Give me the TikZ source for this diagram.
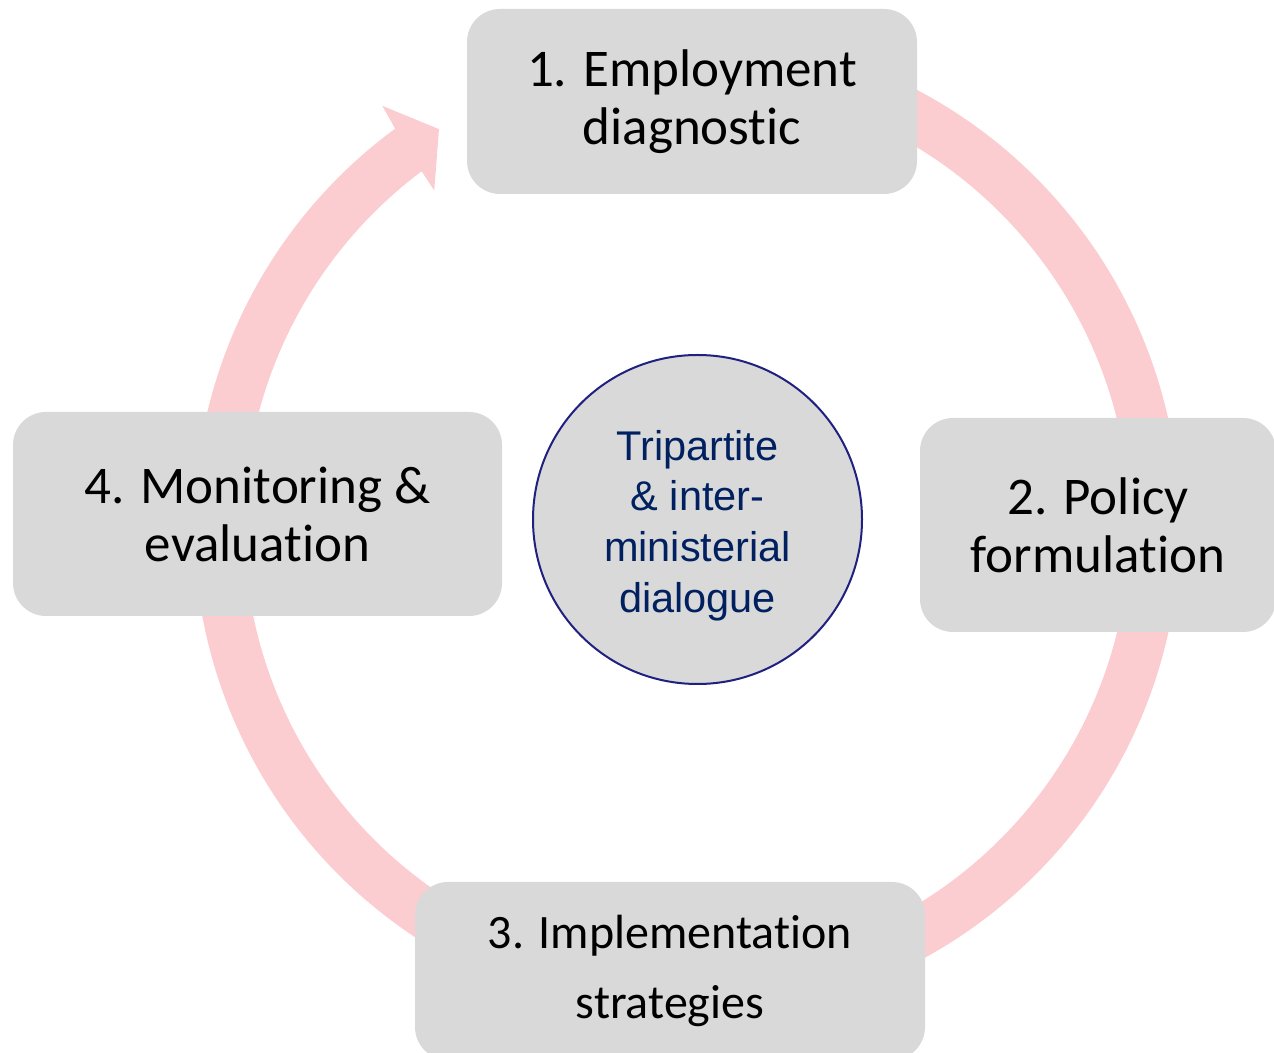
\documentclass[tikz,border=0pt]{standalone}
\usepackage{fontspec}
\setmainfont{Carlito}[Ligatures={NoCommon}]
\newfontfamily\hubfont{Liberation Sans}
\definecolor{bandpink}{RGB}{252,205,208}
\definecolor{boxgray}{RGB}{217,217,217}
\definecolor{hubline}{RGB}{32,32,128}
\definecolor{hubtext}{RGB}{0,32,96}

% curved band arrow around the ring: #1 = start angle, #2 = tip angle (clockwise)
\newcommand\ringarrow[2]{%
  \fill[bandpink] (#1:493) arc[start angle=#1, end angle={#2+4.3}, radius=493]
    -- ({#2+3.95}:519) -- (#2:468) -- ({#2+5}:420) -- ({#2+4.8}:443)
    arc[start angle={#2+4.8}, end angle=#1, radius=443] -- cycle;}

\begin{document}
\begin{tikzpicture}[x=1pt,y=1pt,
  stepbox/.style={fill=boxgray, rounded corners=33pt, inner sep=0pt,
    align=center, font=\fontsize{53}{58}\selectfont},
  hub/.style={circle, fill=boxgray, draw=hubline, line width=2pt,
    minimum size=329pt, inner sep=0pt},
  hublabel/.style={align=center, text=hubtext, inner sep=0pt,
    font=\hubfont\fontsize{41.5}{50.7}\selectfont}]
\useasboundingbox (0,0) rectangle (1274,1052);
\clip (0,0) rectangle (1274,1052);

% ring of arrows, centred behind the hub
\begin{scope}[shift={(687,526)}]
  \ringarrow{178}{122}   % 4 -> 1
  \ringarrow{80}{-2}     % 1 -> 2
  \ringarrow{-8}{-68}    % 2 -> 3
  \ringarrow{-110}{-178} % 3 -> 4
\end{scope}

% stage boxes
\node[stepbox, minimum width=450pt, minimum height=185pt] (s1) at (692,950.5)
  {1. Employment\\diagnostic};
\node[stepbox, minimum width=356pt, minimum height=214pt] (s2) at (1098,527)
  {2. Policy\\formulation};
\node[stepbox, minimum width=510pt, minimum height=178pt,
  font=\fontsize{48}{70}\selectfont] (s3) at (670,81)
  {3. Implementation\\strategies};
\node[stepbox, minimum width=489pt, minimum height=204pt] (s4) at (257.5,538)
  {4. Monitoring \&\\evaluation};

% central hub
\node[hub] (hub) at (697.5,532.5) {};
\node[hublabel, yshift=-6pt] (hubtxt) at (hub.center)
  {Tripartite\\\& inter-\\ministerial\\dialogue};
\end{tikzpicture}
\end{document}
